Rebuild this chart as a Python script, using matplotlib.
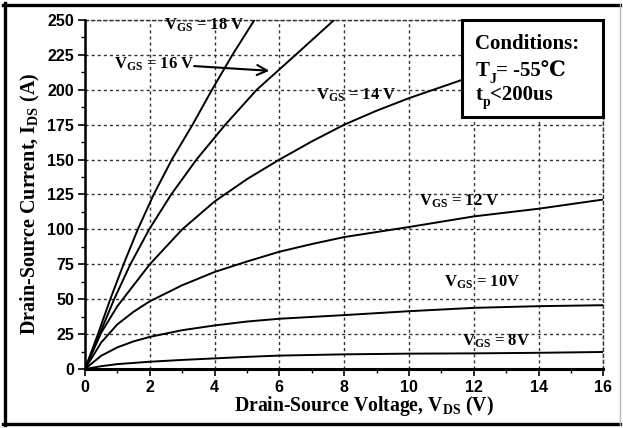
import matplotlib
matplotlib.use("Agg")
import matplotlib.pyplot as plt
from matplotlib.lines import Line2D
from matplotlib.patches import Rectangle
from matplotlib.ticker import MultipleLocator

plt.rcParams['mathtext.fontset'] = 'custom'
plt.rcParams['mathtext.rm'] = 'Liberation Serif:bold'
plt.rcParams['mathtext.it'] = 'Liberation Serif:bold'
plt.rcParams['mathtext.bf'] = 'Liberation Serif:bold'

# ---- data ----
i_levels = [0, 25, 50, 75, 100, 125, 150, 175, 200, 225, 250]
v_18 = [0, 0.40, 0.78, 1.19, 1.63, 2.12, 2.68, 3.32, 3.92, 4.55, 5.23]
v_16 = [0, 0.45, 0.90, 1.40, 1.98, 2.66, 3.44, 4.33, 5.30, 6.50, 7.69]

v_14 = [0, 0.5, 1, 2, 3, 4, 5, 6, 7, 8, 9, 10, 11, 12]
i_14 = [0, 26, 45, 75, 100, 120, 136, 150, 163, 175, 185, 194, 202, 210]

v_12 = [0, 0.5, 1, 1.5, 2, 3, 4, 5, 6, 7, 8, 10, 12, 14, 16]
i_12 = [0, 19, 32, 41, 48.5, 60, 69.5, 77, 84, 89.5, 94.5, 101.7, 109.3, 114.8, 121.4]

v_10 = [0, 0.5, 1, 1.5, 2, 3, 4, 5, 6, 8, 10, 12, 14, 16]
i_10 = [0, 9.5, 15.5, 19.8, 23, 27.8, 31.2, 34, 36, 38.6, 41.4, 43.8, 45, 45.7]

v_8 = [0, 0.5, 1, 2, 3, 4, 5, 6, 8, 10, 12, 14, 16]
i_8 = [0, 2, 3.5, 5.2, 6.5, 7.6, 8.7, 9.6, 10.5, 11, 11.2, 11.6, 12.2]

labels = ["18", "16", "14", "12", "10", "8"]

serif = 'Liberation Serif'
sans = 'Liberation Sans'

fig = plt.figure(figsize=(6.23, 4.28), dpi=100)
ax = fig.add_axes([85/623, 59/428, 518.3/623, 349/428])

lw = 1.4
pkw = dict(color='black', lw=lw, zorder=3, solid_joinstyle='round')
ax.plot(v_18, i_levels, **pkw)
ax.plot(v_16, i_levels, **pkw)
ax.plot(v_14, i_14, **pkw)
ax.plot(v_12, i_12, **pkw)
ax.plot(v_10, i_10, **pkw)
ax.plot(v_8, i_8, **pkw)

ax.set_xlim(0, 16)
ax.set_ylim(0, 250)
ax.xaxis.set_major_locator(MultipleLocator(2))
ax.xaxis.set_minor_locator(MultipleLocator(1))
ax.yaxis.set_major_locator(MultipleLocator(25))
ax.yaxis.set_minor_locator(MultipleLocator(12.5))

gridstyle = dict(color='#333333', lw=1.0, linestyle=(0, (2.2, 2.2)))
ax.grid(True, which='major', **gridstyle)
ax.set_axisbelow(True)

for side in ['top', 'right']:
    ax.spines[side].set_linestyle((0, (2.2, 2.2)))
    ax.spines[side].set_color('#333333')
    ax.spines[side].set_linewidth(1.0)
for side in ['left', 'bottom']:
    ax.spines[side].set_linewidth(1.8)
    ax.spines[side].set_zorder(4)
ax.spines['bottom'].set_linewidth(2.2)

ax.tick_params(which='major', direction='out', length=5, width=1.2, pad=3,
               top=False, right=False)
ax.tick_params(which='minor', direction='out', length=3, width=1.0,
               top=False, right=False)
for lab in ax.get_xticklabels() + ax.get_yticklabels():
    lab.set_fontfamily(sans)
    lab.set_fontweight('bold')
    lab.set_fontsize(11.5)

# axis labels
ax.text(0.538, -0.121, r"Drain-Source Voltage, V$_{\mathrm{DS}}$ (V)",
        transform=ax.transAxes, ha='center', va='baseline',
        fontfamily=serif, fontweight='bold', fontsize=14.2)
ax.text(-0.106, 0.473, r"Drain-Source Current, I$_{\mathrm{DS}}$ (A)",
        transform=ax.transAxes, ha='center', va='center', rotation=90,
        fontfamily=serif, fontweight='bold', fontsize=14.5)

# curve labels
lbl_kw = dict(fontfamily=serif, fontweight='bold', fontsize=12, ha='center',
              va='center', zorder=5)
ax.text(3.69, 246, r"V$_{\mathrm{GS}}$ = %s V" % labels[0], **lbl_kw)
ax.text(2.15, 218, r"V$_{\mathrm{GS}}$ = %s V" % labels[1], **lbl_kw)
ax.text(8.36, 196, r"V$_{\mathrm{GS}}$ = %s V" % labels[2], **lbl_kw)
ax.text(11.54, 120, r"V$_{\mathrm{GS}}$ = %s V" % labels[3], **lbl_kw)
ax.text(12.25, 62, r"V$_{\mathrm{GS}}$ = %sV" % labels[4], **lbl_kw)
ax.text(12.7, 19.5, r"V$_{\mathrm{GS}}$ = %sV" % labels[5], **lbl_kw)

ax.annotate('', xy=(5.69, 213.6), xytext=(3.37, 217),
            arrowprops=dict(arrowstyle='->', lw=1.5, color='black',
                            mutation_scale=18, shrinkA=0, shrinkB=0),
            zorder=5)

# conditions box
box = Rectangle((11.63, 180.7), 16 - 11.63, 250 - 180.7, facecolor='white',
                edgecolor='black', lw=2.2, zorder=6, clip_on=False)
ax.add_patch(box)
ckw = dict(fontfamily=[serif, 'DejaVu Serif'], fontweight='bold', fontsize=15,
           zorder=7)
ax.text(12.05, 229, "Conditions:", ha='left', va='baseline', **ckw)
t1 = ax.text(12.05, 206, "T", ha='left', va='bottom', **ckw)
t2 = ax.annotate("J", xy=(1, 0.12), xycoords=t1, ha='left', va='center',
                 fontfamily=serif, fontweight='bold', fontsize=10, zorder=7)
ax.annotate("= -55\u2103", xy=(1, 0), xycoords=(t2, t1), ha='left',
            va='bottom', **ckw)
t4 = ax.text(12.05, 189, "t", ha='left', va='bottom', **ckw)
t5 = ax.annotate("p", xy=(1, 0.12), xycoords=t4, ha='left', va='center',
                 fontfamily=serif, fontweight='bold', fontsize=10, zorder=7)
ax.annotate("<200us", xy=(1, 0), xycoords=(t5, t4), ha='left',
            va='bottom', **ckw)

# outer frame
W, H = 623.0, 428.0
fig.add_artist(Line2D([4.5/W, 4.5/W], [3/H, 1 - 3/H], color='black', lw=2.4))
fig.add_artist(Line2D([3/W, 620/W], [1 - 4.5/H, 1 - 4.5/H], color='black', lw=2.4))
fig.add_artist(Line2D([3/W, 620/W], [4.5/H, 4.5/H], color='black', lw=2.4))
fig.add_artist(Line2D([619.5/W, 619.5/W], [3/H, 1 - 3/H], color='#bbbbbb', lw=1.0))

fig.savefig("out.png", dpi=100)
